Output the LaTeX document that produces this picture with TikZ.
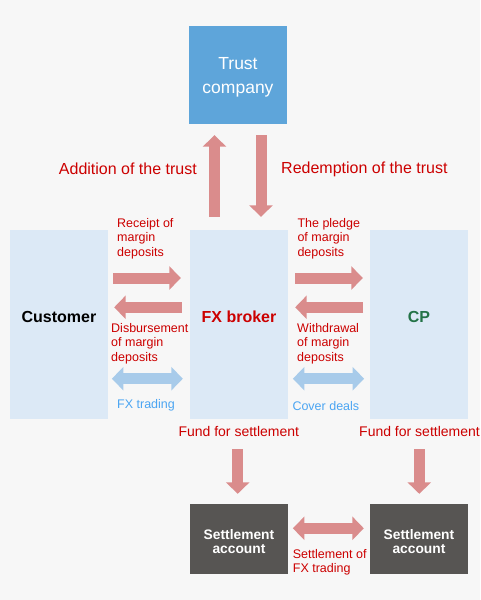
\documentclass[tikz,border=0pt]{standalone}
\usepackage{fontspec}
\setmainfont{Liberation Sans}
\usetikzlibrary{arrows.meta}
\definecolor{bgc}{HTML}{F7F7F7}
\definecolor{trustc}{HTML}{5EA5DA}
\definecolor{lightbox}{HTML}{DCE9F6}
\definecolor{darkbox}{HTML}{575553}
\definecolor{pinkarr}{HTML}{DA8C8C}
\definecolor{bluearr}{HTML}{A8CBEA}
\definecolor{redtxt}{HTML}{CC0000}
\definecolor{bluetxt}{HTML}{4BA5F2}
\definecolor{greentxt}{HTML}{237347}
\tikzset{
  box/.style={rectangle, inner sep=0pt, minimum width=98pt, align=center},
  lbox/.style={box, fill=lightbox, minimum height=189pt, text depth=15pt, font=\bfseries\fontsize{16}{19}\selectfont},
  dbox/.style={box, fill=darkbox, minimum height=70pt, text=white, font=\bfseries\fontsize{13.8}{13.8}\selectfont},
  fatarr/.style={line width=11pt, pinkarr, -{Triangle[width=23pt,length=11.5pt]}},
  fatdbl/.style={line width=11pt, bluearr, {Triangle[width=23pt,length=11.5pt]}-{Triangle[width=23pt,length=11.5pt]}},
  pinkdbl/.style={line width=11pt, pinkarr, {Triangle[width=23pt,length=11.5pt]}-{Triangle[width=23pt,length=11.5pt]}},
  biglbl/.style={inner sep=0pt, text=redtxt, font=\fontsize{16}{19}\selectfont},
  smlbl/.style={inner sep=0pt, align=left, anchor=west, text=redtxt, font=\fontsize{12.5}{14.5}\selectfont},
  fundlbl/.style={inner sep=0pt, anchor=west, text=redtxt, font=\fontsize{14}{16}\selectfont},
}
\begin{document}
\begin{tikzpicture}[x=1pt,y=-1pt]
\fill[bgc] (0,0) rectangle (480,600);
\useasboundingbox (0,0) rectangle (480,600);

% boxes
\node[box, fill=trustc, minimum height=98pt, text=white, text depth=-1pt, font=\fontsize{17.5}{24}\selectfont] (trust) at (238,75) {Trust\\company};
\node[lbox] (cust) at (59,324.5) {Customer};
\node[lbox, text=redtxt] (fx) at (239,324.5) {FX broker};
\node[lbox, text=greentxt] (cp) at (419,324.5) {CP};
\node[dbox] (sa1) at (239,539) {\rule{0pt}{15pt}Settlement\\account};
\node[dbox] (sa2) at (419,539) {\rule{0pt}{15pt}Settlement\\account};

% trust arrows
\draw[fatarr, shorten <=13pt, shorten >=11pt] ([xshift=-24.5pt]fx.north) -- ([xshift=-23.5pt]trust.south);
\draw[fatarr, shorten <=11pt, shorten >=13pt] ([xshift=23pt]trust.south) -- ([xshift=22pt]fx.north);
\node[biglbl, anchor=east] (addl) at (197,169) {Addition of the trust};
\node[biglbl, anchor=west] (redl) at (281,169) {Redemption of the trust};

% customer <-> fx broker
\draw[fatarr, shorten <=5pt, shorten >=9pt] ([yshift=46.5pt]cust.east) -- ([yshift=46.5pt]fx.west);
\draw[fatarr, shorten <=8pt, shorten >=6pt] ([yshift=17.2pt]fx.west) -- ([yshift=17.2pt]cust.east);
\draw[fatdbl, shorten <=3.7pt, shorten >=7pt] ([yshift=-54.2pt]cust.east) -- ([yshift=-54.2pt]fx.west);
\node[smlbl] (rcpt) at (117,238.5) {Receipt of\\margin\\deposits};
\node[smlbl] (disb) at (111,343.5) {Disbursement\\of margin\\deposits};
\node[smlbl, text=bluetxt] (fxt) at (117,405.7) {FX trading};

% fx broker <-> cp
\draw[fatarr, shorten <=7pt, shorten >=7pt] ([yshift=46.5pt]fx.east) -- ([yshift=46.5pt]cp.west);
\draw[fatarr, shorten <=6.7pt, shorten >=7pt] ([yshift=17.2pt]cp.west) -- ([yshift=17.2pt]fx.east);
\draw[fatdbl, shorten <=4.7pt, shorten >=5.7pt] ([yshift=-54.2pt]fx.east) -- ([yshift=-54.2pt]cp.west);
\node[smlbl] (pldg) at (297.3,238.5) {The pledge\\of margin\\deposits};
\node[smlbl] (wdrw) at (297,343.5) {Withdrawal\\of margin\\deposits};
\node[smlbl, text=bluetxt] (cov) at (292.3,405.7) {Cover deals};

% settlement
\node[fundlbl] (fund1) at (178.3,431.7) {Fund for settlement};
\node[fundlbl] (fund2) at (359,431.7) {Fund for settlement};
\coordinate (f1) at (237.7,449);
\coordinate (f2) at (419.3,449);
\draw[fatarr, shorten >=10pt] (f1) -- (f1 |- sa1.north);
\draw[fatarr, shorten >=10pt] (f2) -- (f2 |- sa2.north);
\draw[pinkdbl, shorten <=4.7pt, shorten >=6pt] ([yshift=10.7pt]sa1.east) -- ([yshift=10.7pt]sa2.west);
\node[smlbl] (sfx) at (292.7,562.5) {Settlement of\\FX trading};
\end{tikzpicture}
\end{document}
